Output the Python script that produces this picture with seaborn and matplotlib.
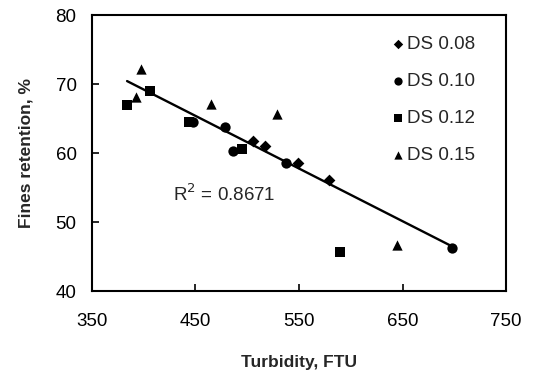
import numpy as np
import pandas as pd
import matplotlib
matplotlib.use("Agg")
import matplotlib.pyplot as plt
import seaborn as sns

# data
ds008_x = [506, 517, 549, 579]
ds008_y = [61.7, 61.0, 58.6, 56.1]
ds010_x = [448, 479, 486, 537, 698]
ds010_y = [64.5, 63.8, 60.3, 58.6, 46.2]
ds012_x = [384, 406, 444, 495, 590]
ds012_y = [67.0, 69.0, 64.5, 60.6, 45.6]
ds015_x = [397, 393, 465, 529, 645]
ds015_y = [72.2, 68.1, 67.1, 65.7, 46.7]
series = ["DS 0.08", "DS 0.10", "DS 0.12", "DS 0.15"]
# the 590 FTU square sits off the trend and is left out of the fit
outlier_x = [590]
r2_text = "R$^2$ = 0.8671"

frames = []
for name, xs, ys in zip(series, [ds008_x, ds010_x, ds012_x, ds015_x],
                        [ds008_y, ds010_y, ds012_y, ds015_y]):
    frames.append(pd.DataFrame({"turb": xs, "ret": ys, "DS": name}))
df = pd.concat(frames, ignore_index=True)

sns.set_style("ticks")
plt.rcParams['font.family'] = ['Liberation Sans', 'DejaVu Sans']

fig, ax = plt.subplots(figsize=(5.34, 3.78), dpi=100)
fig.subplots_adjust(left=0.172, right=0.948, top=0.960, bottom=0.230)

markers = {"DS 0.08": "D", "DS 0.10": "o", "DS 0.12": "s", "DS 0.15": "^"}
sizes = {"DS 0.08": 36, "DS 0.10": 55, "DS 0.12": 55, "DS 0.15": 55}
for name in series:
    sub = df[df["DS"] == name]
    sns.scatterplot(data=sub, x="turb", y="ret", marker=markers[name],
                    s=sizes[name], color="black", edgecolor="black",
                    linewidth=0, label=name, ax=ax, zorder=3)

# linear trend
fit = df[~df["turb"].isin(outlier_x)]
coef = np.polyfit(fit["turb"], fit["ret"], 1)
xfit = np.array([fit["turb"].min(), fit["turb"].max()])
sns.lineplot(x=xfit, y=np.polyval(coef, xfit), color="black", lw=1.7, ax=ax,
             zorder=2)

ax.text(428, 54.1, r2_text, fontsize=13.5, va="center", ha="left")

ax.set_xlim(350, 750)
ax.set_ylim(40, 80)
ax.set_xticks([350, 450, 550, 650, 750])
ax.set_yticks([40, 50, 60, 70, 80])
ax.tick_params(direction="in", length=5, width=1.2, labelsize=13.5, pad=16,
               colors="black")
ax.tick_params(axis="y", pad=11)
for sp in ax.spines.values():
    sp.set_linewidth(1.5)
    sp.set_color("black")
    sp.set_visible(True)

ax.set_xlabel("Turbidity, FTU", fontsize=12.5, fontweight="bold", labelpad=18)
ax.set_ylabel("Fines retention, %", fontsize=12.5, fontweight="bold",
              labelpad=16)

ax.legend(loc="upper left", bbox_to_anchor=(0.675, 0.985), frameon=False,
          fontsize=13.5, handletextpad=0.0, labelspacing=1.05,
          handlelength=1.0, markerscale=0.8)

plt.savefig("out.png", dpi=100)
